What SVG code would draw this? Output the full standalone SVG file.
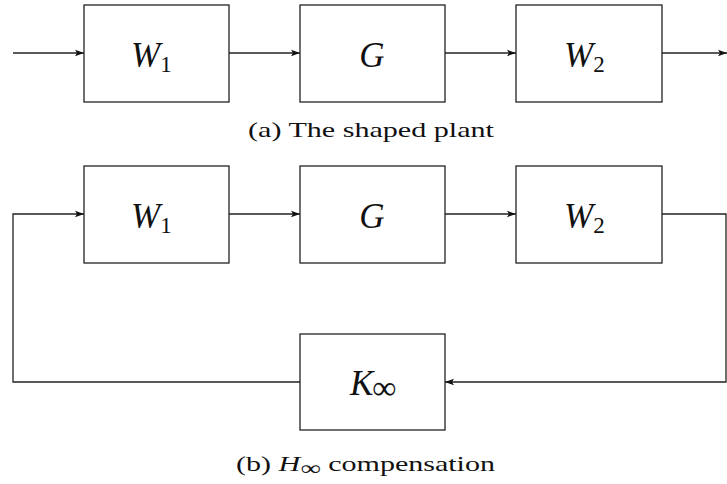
<svg xmlns="http://www.w3.org/2000/svg" width="727" height="484" viewBox="0 0 727 484">
<defs>
<style>
.box{fill:#fff;stroke:#222;stroke-width:1.3}
.wire{fill:none;stroke:#222;stroke-width:1.3}
.math{font-family:"Liberation Serif","DejaVu Serif",serif;font-style:italic;font-size:35px;fill:#111}
.sub{font-style:normal;font-size:23px}
.inf{font-style:normal;font-size:34px}
.cap{font-family:"Liberation Serif","DejaVu Serif",serif;font-size:21px;fill:#111}
</style>
<marker id="ah" markerWidth="10" markerHeight="8" refX="9" refY="4" orient="auto" markerUnits="userSpaceOnUse">
<path d="M0,0.8 L9,4 L0,7.2 L2,4 Z" fill="#111"/>
</marker>
</defs>
<rect width="727" height="484" fill="#fff"/>
<g id="connectors">
<line class="wire" x1="13" y1="53" x2="84" y2="53" marker-end="url(#ah)"/>
<line class="wire" x1="229" y1="53" x2="300" y2="53" marker-end="url(#ah)"/>
<line class="wire" x1="445" y1="53" x2="516" y2="53" marker-end="url(#ah)"/>
<line class="wire" x1="662" y1="53" x2="727" y2="53" marker-end="url(#ah)"/>
<polyline class="wire" points="300,382 13,382 13,214 84,214" marker-end="url(#ah)"/>
<line class="wire" x1="229" y1="214" x2="300" y2="214" marker-end="url(#ah)"/>
<line class="wire" x1="445" y1="214" x2="516" y2="214" marker-end="url(#ah)"/>
<polyline class="wire" points="662,214 726,214 726,382 445,382" marker-end="url(#ah)"/>
</g>
<g id="a-W1"><rect class="box" x="84" y="5" width="145" height="97"/><text class="math" x="131" y="67">W<tspan class="sub" dx="0" dy="5">1</tspan></text></g>
<g id="a-G"><rect class="box" x="300" y="5" width="145" height="97"/><text class="math" x="372" y="67" text-anchor="middle">G</text></g>
<g id="a-W2"><rect class="box" x="516" y="5" width="146" height="97"/><text class="math" x="564" y="67">W<tspan class="sub" dx="0" dy="5">2</tspan></text></g>
<g id="caption-a"><text class="cap" x="248" y="137" textLength="246" lengthAdjust="spacingAndGlyphs">(a) The shaped plant</text></g>
<g id="b-W1"><rect class="box" x="84" y="166" width="145" height="97"/><text class="math" x="131" y="228">W<tspan class="sub" dx="0" dy="5">1</tspan></text></g>
<g id="b-G"><rect class="box" x="300" y="166" width="145" height="97"/><text class="math" x="372" y="228" text-anchor="middle">G</text></g>
<g id="b-W2"><rect class="box" x="516" y="166" width="146" height="97"/><text class="math" x="564" y="228">W<tspan class="sub" dx="0" dy="5">2</tspan></text></g>
<g id="b-K"><rect class="box" x="300" y="334" width="145" height="96"/><text class="math" x="350" y="395">K<tspan class="inf" dx="-1" dy="4">∞</tspan></text></g>
<g id="caption-b"><text class="cap" x="236" y="471" textLength="259" lengthAdjust="spacingAndGlyphs">(b) <tspan font-style="italic">H</tspan><tspan font-size="20" dy="4">∞</tspan><tspan dy="-4"> compensation</tspan></text></g>
</svg>
